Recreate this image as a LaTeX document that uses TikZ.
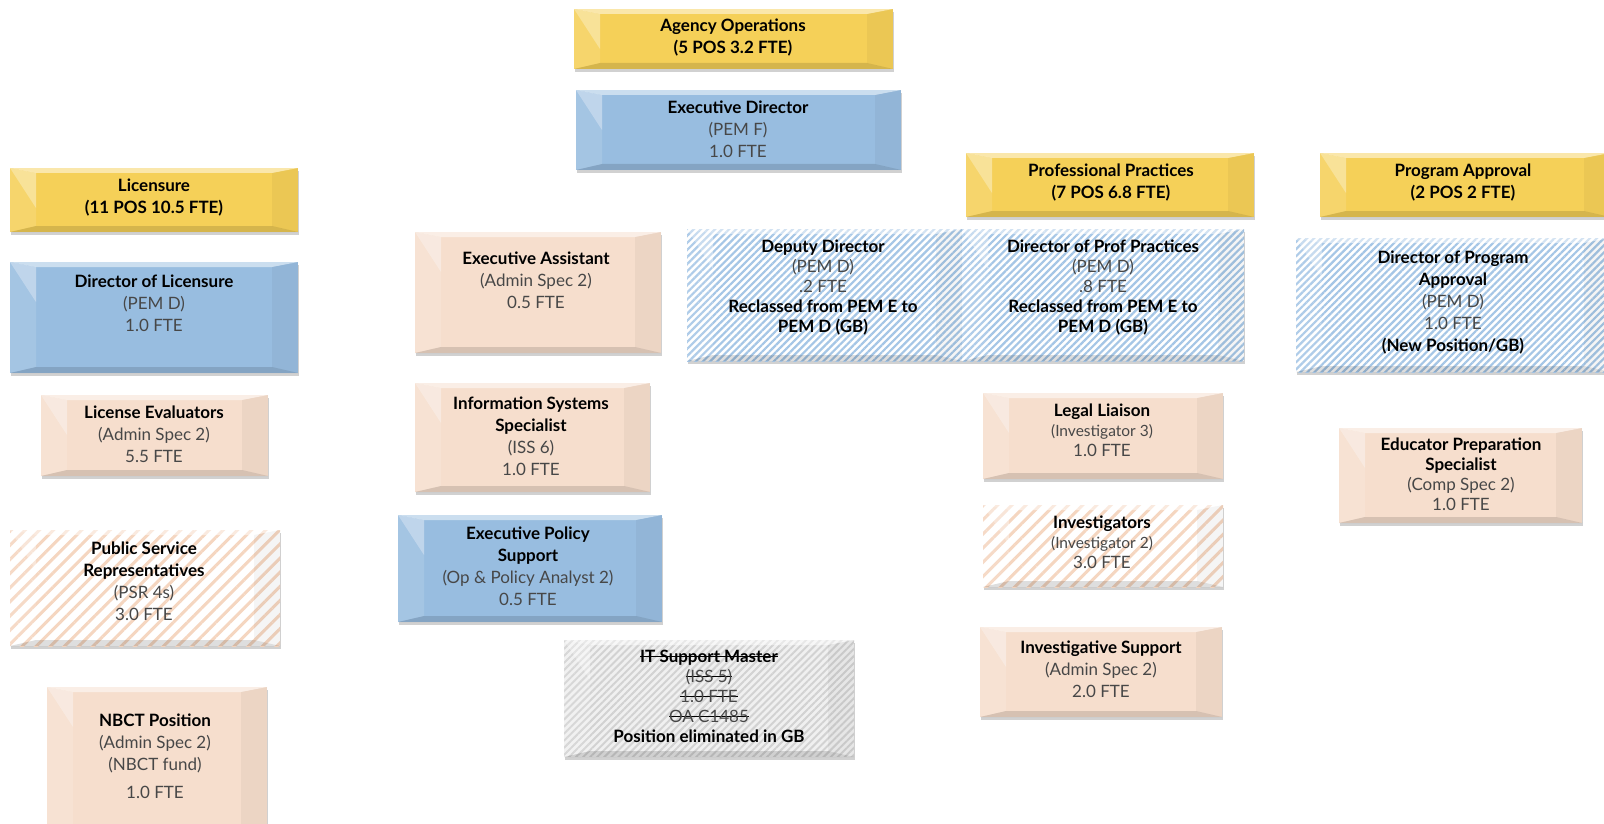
\documentclass[tikz,border=0pt]{standalone}
\usepackage{fontspec}
\setmainfont{Lato}
\usetikzlibrary{positioning, shadows, patterns.meta}
\usepackage{xcolor}

\definecolor{gold}{RGB}{245,208,88}
\definecolor{skyblue}{RGB}{152,189,224}
\definecolor{peach}{RGB}{246,222,205}
\definecolor{peachline}{RGB}{245,214,192}
\definecolor{hatchblue}{RGB}{165,198,230}
\definecolor{hatchgray}{RGB}{210,210,210}

\newcommand{\lite}[1]{{\color{black!72}#1}}
\newcommand{\strike}[1]{\leavevmode\setbox0\hbox{#1}\rlap{\rule[0.3em]{\wd0}{0.8pt}}\box0}

\tikzset{
  bevel/.style={path picture={
    \coordinate (bnw) at (path picture bounding box.north west);
    \coordinate (bne) at (path picture bounding box.north east);
    \coordinate (bsw) at (path picture bounding box.south west);
    \coordinate (bse) at (path picture bounding box.south east);
    \fill[white, opacity=0.5] (bnw) -- (bne) -- ([shift={(-26pt,-5pt)}]bne) -- ([shift={(26pt,-5pt)}]bnw) -- cycle;
    \fill[white, opacity=0.3] (bnw) -- ([shift={(26pt,-5pt)}]bnw) -- ([shift={(26pt,-40pt)}]bnw) -- cycle;
    \fill[white, opacity=0.12] (bnw) -- ([shift={(26pt,-5pt)}]bnw) -- ([shift={(26pt,6pt)}]bsw) -- (bsw) -- cycle;
    \fill[black, opacity=0.04] (bne) -- ([shift={(-26pt,-5pt)}]bne) -- ([shift={(-26pt,6pt)}]bse) -- (bse) -- cycle;
    \fill[black, opacity=0.13] (bsw) -- (bse) -- ([shift={(-26pt,6pt)}]bse) -- ([shift={(26pt,6pt)}]bsw) -- cycle;
  }}
}

\begin{document}
\begin{tikzpicture}[x=1pt, y=-1pt, font=\fontsize{17}{22}\selectfont]

        % Styles
        \tikzstyle{box} = [drop shadow={shadow xshift=1pt, shadow yshift=-3pt, opacity=0.3, fill=black!60}, bevel]
        \tikzstyle{head} = [box, fill=gold]
        \tikzstyle{chief} = [box, fill=skyblue]
        \tikzstyle{staff} = [box, fill=peach]
        \tikzstyle{bluehatch} = [box, preaction={fill=white}, pattern={Lines[angle=45, distance=5pt, line width=2.2pt]}, pattern color=hatchblue]
        \tikzstyle{peachhatch} = [box, preaction={fill=white}, pattern={Lines[angle=45, distance=10pt, line width=3pt]}, pattern color=peachline]
        \tikzstyle{grayhatch} = [box, preaction={fill=black!6}, pattern={Lines[angle=45, distance=5pt, line width=2pt]}, pattern color=hatchgray]
        \tikzstyle{txt} = [align=center, text=black, inner sep=0pt]
        \tikzstyle{tight} = [txt, font=\fontsize{17}{20}\selectfont]

        \useasboundingbox (0,0) rectangle (1604,824);

        % --- TOP: AGENCY OPERATIONS ---
        \fill[head] (574,9) rectangle (893,69);
        \node[txt] (agency) at (733,38) {\textbf{Agency Operations}\\\textbf{(5 POS 3.2 FTE)}};

        \fill[chief] (576,90) rectangle (901,170);
        \node[txt] (execdir) at (738,129) {\textbf{Executive Director}\\\lite{(PEM F)}\\\lite{1.0 FTE}};

        % --- LEFT: LICENSURE ---
        \fill[head] (10,168) rectangle (298,232);
        \node[txt] (licensure) at (154,198) {\textbf{Licensure}\\\textbf{(11 POS 10.5 FTE)}};

        \fill[chief] (10,262) rectangle (298,373);
        \node[txt] (dirlic) at (154,303) {\textbf{Director of Licensure}\\\lite{(PEM D)}\\\lite{1.0 FTE}};

        \fill[staff] (41,395) rectangle (268,476);
        \node[txt] (liceval) at (154,434) {\textbf{License Evaluators}\\\lite{(Admin Spec 2)}\\\lite{5.5 FTE}};

        \fill[peachhatch] (10,530) rectangle (280,646);
        \node[txt] (psr) at (144,581) {\textbf{Public Service}\\\textbf{Representatives}\\\lite{(PSR 4s)}\\\lite{3.0 FTE}};

        \fill[staff] (47,687) rectangle (267,830);
        \node[txt] (nbct) at (155,756) {\textbf{NBCT Position}\\\lite{(Admin Spec 2)}\\\lite{(NBCT fund)}\\[6pt]\lite{1.0 FTE}};

        % --- MIDDLE: AGENCY STAFF ---
        \fill[staff] (415,232) rectangle (661,353);
        \node[txt] (execasst) at (536,280) {\textbf{Executive Assistant}\\\lite{(Admin Spec 2)}\\\lite{0.5 FTE}};

        \fill[staff] (415,383) rectangle (650,492);
        \node[txt] (iss) at (531,436) {\textbf{Information Systems}\\\textbf{Specialist}\\\lite{(ISS 6)}\\\lite{1.0 FTE}};

        \fill[chief] (398,515) rectangle (662,622);
        \node[txt] (policy) at (528,566) {\textbf{Executive Policy}\\\textbf{Support}\\\lite{(Op \& Policy Analyst 2)}\\\lite{0.5 FTE}};

        \fill[grayhatch] (564,640) rectangle (854,757);
        \node[tight] (itsupport) at (709,696) {\strike{\textbf{IT Support Master}}\\\strike{\lite{(ISS 5)}}\\\strike{\lite{1.0 FTE}}\\\strike{\lite{OA C1485}}\\\textbf{Position eliminated in GB}};

        \fill[bluehatch] (687,229) rectangle (962,361);
        \node[tight] (deputy) at (823,288) {\textbf{Deputy Director}\\\lite{(PEM D)}\\\lite{.2 FTE}\\\textbf{Reclassed from PEM E to}\\\textbf{PEM D (GB)}};

        % --- PROFESSIONAL PRACTICES ---
        \fill[head] (966,153) rectangle (1254,217);
        \node[txt] (profprac) at (1111,183) {\textbf{Professional Practices}\\\textbf{(7 POS 6.8 FTE)}};

        \fill[bluehatch] (962,229) rectangle (1244,361);
        \node[tight] (dirprof) at (1103,288) {\textbf{Director of Prof Practices}\\\lite{(PEM D)}\\\lite{.8 FTE}\\\textbf{Reclassed from PEM E to}\\\textbf{PEM D (GB)}};

        \fill[staff] (983,393) rectangle (1223,479);
        \node[tight] (legal) at (1102,430) {\textbf{Legal Liaison}\\\lite{\fontsize{15.5}{20}\selectfont(Investigator 3)}\\\lite{1.0 FTE}};

        \fill[peachhatch] (983,505) rectangle (1223,587);
        \node[tight] (investigators) at (1102,542) {\textbf{Investigators}\\\lite{\fontsize{15.5}{20}\selectfont(Investigator 2)}\\\lite{3.0 FTE}};

        \fill[staff] (980,627) rectangle (1222,717);
        \node[txt] (invsupport) at (1101,669) {\textbf{Investigative Support}\\\lite{(Admin Spec 2)}\\\lite{2.0 FTE}};

        % --- RIGHT: PROGRAM APPROVAL ---
        \fill[head] (1320,153) rectangle (1610,217);
        \node[txt] (progapp) at (1463,183) {\textbf{Program Approval}\\\textbf{(2 POS 2 FTE)}};

        \fill[bluehatch] (1296,238) rectangle (1610,372);
        \node[txt] (dirprog) at (1453,303) {\textbf{Director of Program}\\\textbf{Approval}\\\lite{(PEM D)}\\\lite{1.0 FTE}\\\textbf{(New Position/GB)}};

        \fill[staff] (1339,428) rectangle (1582,523);
        \node[tight] (eduprep) at (1461,474) {\textbf{Educator Preparation}\\\textbf{Specialist}\\\lite{(Comp Spec 2)}\\\lite{1.0 FTE}};

    \end{tikzpicture}
\end{document}
